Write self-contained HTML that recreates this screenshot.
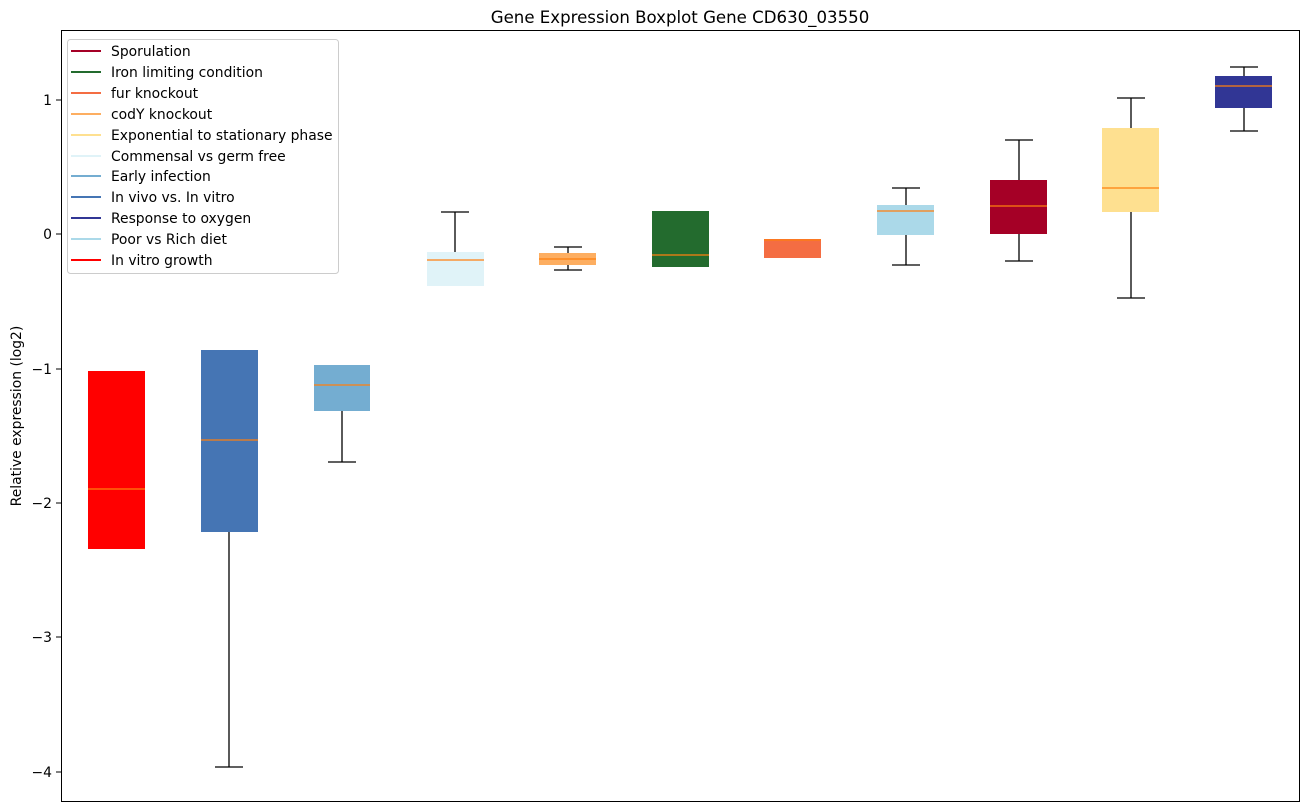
<!DOCTYPE html><html><head><style>body{margin:0;background:#fff}svg{display:block;font-family:"DejaVu Sans","Liberation Sans",sans-serif}</style></head><body>
<svg width="1309" height="812" xmlns="http://www.w3.org/2000/svg">
<text x="680" y="23" font-size="16.6" text-anchor="middle">Gene Expression Boxplot Gene CD630_03550</text>
<g stroke="#000" stroke-width="1.3">
<line x1="229" y1="532" x2="229" y2="767"/><line x1="215" y1="767" x2="243" y2="767"/>
<line x1="342" y1="411" x2="342" y2="462"/><line x1="328" y1="462" x2="356" y2="462"/>
<line x1="455" y1="252" x2="455" y2="212"/><line x1="441" y1="212" x2="469" y2="212"/>
<line x1="568" y1="253" x2="568" y2="247"/><line x1="554" y1="247" x2="582" y2="247"/>
<line x1="568" y1="265" x2="568" y2="270"/><line x1="554" y1="270" x2="582" y2="270"/>
<line x1="906" y1="205" x2="906" y2="188"/><line x1="892" y1="188" x2="920" y2="188"/>
<line x1="906" y1="235" x2="906" y2="265"/><line x1="892" y1="265" x2="920" y2="265"/>
<line x1="1019" y1="180" x2="1019" y2="140"/><line x1="1005" y1="140" x2="1033" y2="140"/>
<line x1="1019" y1="234" x2="1019" y2="261"/><line x1="1005" y1="261" x2="1033" y2="261"/>
<line x1="1131" y1="128" x2="1131" y2="98"/><line x1="1117" y1="98" x2="1145" y2="98"/>
<line x1="1131" y1="212" x2="1131" y2="298"/><line x1="1117" y1="298" x2="1145" y2="298"/>
<line x1="1244" y1="76" x2="1244" y2="67"/><line x1="1230" y1="67" x2="1258" y2="67"/>
<line x1="1244" y1="108" x2="1244" y2="131"/><line x1="1230" y1="131" x2="1258" y2="131"/>
</g>
<g>
<rect x="88" y="371" width="57" height="178" fill="#ff0000"/>
<rect x="201" y="350" width="57" height="182" fill="#4575b4"/>
<rect x="314" y="365" width="56" height="46" fill="#74add1"/>
<rect x="427" y="252" width="57" height="34" fill="#e0f3f8"/>
<rect x="539" y="253" width="57" height="12" fill="#fdae61"/>
<rect x="652" y="211" width="57" height="56" fill="#236b2e"/>
<rect x="764" y="239" width="57" height="19" fill="#f46d43"/>
<rect x="877" y="205" width="57" height="30" fill="#abd9e9"/>
<rect x="990" y="180" width="57" height="54" fill="#a50026"/>
<rect x="1102" y="128" width="57" height="84" fill="#fee090"/>
<rect x="1215" y="76" width="57" height="32" fill="#313695"/>
</g>
<g stroke="#ff7f0e" stroke-width="1.3">
<line x1="88" y1="489" x2="145" y2="489"/><line x1="201" y1="440" x2="258" y2="440"/>
<line x1="314" y1="385" x2="370" y2="385"/><line x1="427" y1="260" x2="484" y2="260"/>
<line x1="539" y1="259" x2="596" y2="259"/><line x1="652" y1="255" x2="709" y2="255"/>
<line x1="764" y1="240" x2="821" y2="240"/><line x1="877" y1="211" x2="934" y2="211"/>
<line x1="990" y1="206" x2="1047" y2="206"/><line x1="1102" y1="188" x2="1159" y2="188"/>
<line x1="1215" y1="86" x2="1272" y2="86"/>
</g>
<rect x="61.5" y="30.5" width="1238" height="771" fill="none" stroke="#000"/>
<g font-size="13.9" text-anchor="end">
<line x1="56" y1="100" x2="61" y2="100" stroke="#000"/><text x="52" y="105">1</text>
<line x1="56" y1="234" x2="61" y2="234" stroke="#000"/><text x="52" y="239">0</text>
<line x1="56" y1="369" x2="61" y2="369" stroke="#000"/><text x="52" y="374">−1</text>
<line x1="56" y1="503" x2="61" y2="503" stroke="#000"/><text x="52" y="508">−2</text>
<line x1="56" y1="637" x2="61" y2="637" stroke="#000"/><text x="52" y="642">−3</text>
<line x1="56" y1="772" x2="61" y2="772" stroke="#000"/><text x="52" y="777">−4</text>
</g>
<text transform="translate(21,416) rotate(-90)" font-size="13.9" text-anchor="middle">Relative expression (log2)</text>
<rect x="67.5" y="39.5" width="271" height="234" rx="3" fill="#fff" stroke="#ccc"/>
<g font-size="13.9" stroke-width="2">
<line x1="71" y1="51" x2="101" y2="51" stroke="#a50026"/><text x="111" y="56">Sporulation</text>
<line x1="71" y1="72" x2="101" y2="72" stroke="#236b2e"/><text x="111" y="77">Iron limiting condition</text>
<line x1="71" y1="93" x2="101" y2="93" stroke="#f46d43"/><text x="111" y="98">fur knockout</text>
<line x1="71" y1="114" x2="101" y2="114" stroke="#fdae61"/><text x="111" y="119">codY knockout</text>
<line x1="71" y1="135" x2="101" y2="135" stroke="#fee090"/><text x="111" y="140">Exponential to stationary phase</text>
<line x1="71" y1="156" x2="101" y2="156" stroke="#e0f3f8"/><text x="111" y="161">Commensal vs germ free</text>
<line x1="71" y1="176" x2="101" y2="176" stroke="#74add1"/><text x="111" y="181">Early infection</text>
<line x1="71" y1="197" x2="101" y2="197" stroke="#4575b4"/><text x="111" y="202">In vivo vs. In vitro</text>
<line x1="71" y1="218" x2="101" y2="218" stroke="#313695"/><text x="111" y="223">Response to oxygen</text>
<line x1="71" y1="239" x2="101" y2="239" stroke="#abd9e9"/><text x="111" y="244">Poor vs Rich diet</text>
<line x1="71" y1="260" x2="101" y2="260" stroke="#ff0000"/><text x="111" y="265">In vitro growth</text>
</g>
</svg></body></html>
